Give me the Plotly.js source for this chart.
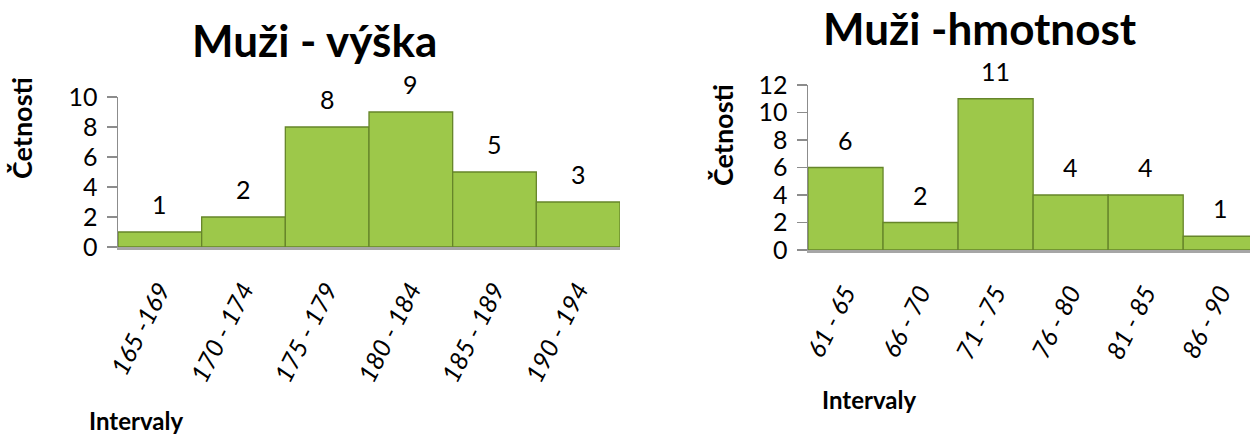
<!DOCTYPE html>
<html>
<head>
<meta charset="utf-8">
<script src="https://cdn.plot.ly/plotly-3.0.1.min.js"></script>
<style>
html,body{margin:0;padding:0;background:#fff;overflow:hidden;}
#chart{width:1250px;height:439px;}
</style>
</head>
<body>
<div id="chart"></div>
<script>
// Data
const heightIntervals = ["165 -169", "170 - 174", "175 - 179", "180 - 184", "185 - 189", "190 - 194"];
const heightCounts = [1, 2, 8, 9, 5, 3];
const weightIntervals = ["61 - 65", "66 - 70", "71 - 75", "76 - 80", "81 - 85", "86 - 90"];
const weightCounts = [6, 2, 11, 4, 4, 1];
const titleLeft = "Muži - výška";
const titleRight = "Muži -hmotnost";
const yTitle = "Četnosti";
const xTitle = "Intervaly";

const FONT = "Lato, 'Open Sans', sans-serif";
const barFill = "#9dc84a";
const barLine = "#66852a";

function barTrace(x, y, xa, ya) {
  return {
    type: "bar", x: x, y: y, xaxis: xa, yaxis: ya,
    marker: {color: barFill, line: {color: barLine, width: 1.3}},
    hoverinfo: "skip", showlegend: false
  };
}

const traces = [
  barTrace(heightIntervals, heightCounts, "x", "y"),
  barTrace(weightIntervals, weightCounts, "x2", "y2")
];

function valueLabels(x, y, xref, yref) {
  return x.map((c, i) => ({
    x: c, y: y[i], xref: xref, yref: yref, text: String(y[i]),
    showarrow: false, yanchor: "bottom", yshift: 11,
    font: {family: FONT, size: 25, color: "#000"}
  }));
}

const yAxisCommon = {
  showgrid: false, zeroline: false, showline: true, linecolor: "#8c8c8c", linewidth: 1.5,
  ticks: "outside", ticklen: 10, tickcolor: "#8c8c8c", tickwidth: 1.5,
  tickfont: {family: FONT, size: 25, color: "#000"}, dtick: 2, ticklabelstandoff: 4,
  fixedrange: true
};
const xAxisCommon = {
  type: "category", showgrid: false, zeroline: false, showline: true,
  linecolor: "#a6a6a6", linewidth: 2.5, ticks: "", tickangle: -63,
  tickfont: {family: FONT, size: 25, color: "#000", style: "italic"},
  ticklabelstandoff: 16, fixedrange: true
};

const layout = {
  width: 1250, height: 439,
  margin: {l: 0, r: 0, t: 0, b: 0},
  paper_bgcolor: "#fff", plot_bgcolor: "rgba(0,0,0,0)",
  bargap: 0,
  xaxis: Object.assign({}, xAxisCommon, {domain: [118/1250, 620/1250], range: [-0.5, 5.5], anchor: "y"}),
  yaxis: Object.assign({}, yAxisCommon, {domain: [1 - 247/439, 1 - 97/439], range: [0, 10], anchor: "x"}),
  xaxis2: Object.assign({}, xAxisCommon, {domain: [808/1250, 1], range: [-0.5, 5.39], anchor: "y2"}),
  yaxis2: Object.assign({}, yAxisCommon, {domain: [1 - 250/439, 1 - 85/439], range: [0, 12], anchor: "x2"}),
  annotations: [].concat(
    valueLabels(heightIntervals, heightCounts, "x", "y"),
    valueLabels(weightIntervals, weightCounts, "x2", "y2"),
    [
      {text: "<b>" + titleLeft + "</b>", xref: "paper", yref: "paper", x: 314/1250, y: 1 - 40/439,
       showarrow: false, xanchor: "center", yanchor: "middle", font: {family: FONT, size: 44, color: "#000"}},
      {text: "<b>" + titleRight + "</b>", xref: "paper", yref: "paper", x: 980/1250, y: 1 - 28/439,
       showarrow: false, xanchor: "center", yanchor: "middle", font: {family: FONT, size: 44, color: "#000"}},
      {text: "<b>" + yTitle + "</b>", xref: "paper", yref: "paper", x: 22/1250, y: 1 - 128/439,
       showarrow: false, textangle: -90, xanchor: "center", yanchor: "middle", font: {family: FONT, size: 27, color: "#000"}},
      {text: "<b>" + yTitle + "</b>", xref: "paper", yref: "paper", x: 722/1250, y: 1 - 135/439,
       showarrow: false, textangle: -90, xanchor: "center", yanchor: "middle", font: {family: FONT, size: 27, color: "#000"}},
      {text: "<b>" + xTitle + "</b>", xref: "paper", yref: "paper", x: 87/1250, y: 1 - 420/439,
       showarrow: false, xanchor: "left", yanchor: "middle", font: {family: FONT, size: 24, color: "#000"}},
      {text: "<b>" + xTitle + "</b>", xref: "paper", yref: "paper", x: 820/1250, y: 1 - 399/439,
       showarrow: false, xanchor: "left", yanchor: "middle", font: {family: FONT, size: 24, color: "#000"}}
    ]
  )
};

Plotly.newPlot("chart", traces, layout, {displayModeBar: false, staticPlot: true});
</script>
</body>
</html>
